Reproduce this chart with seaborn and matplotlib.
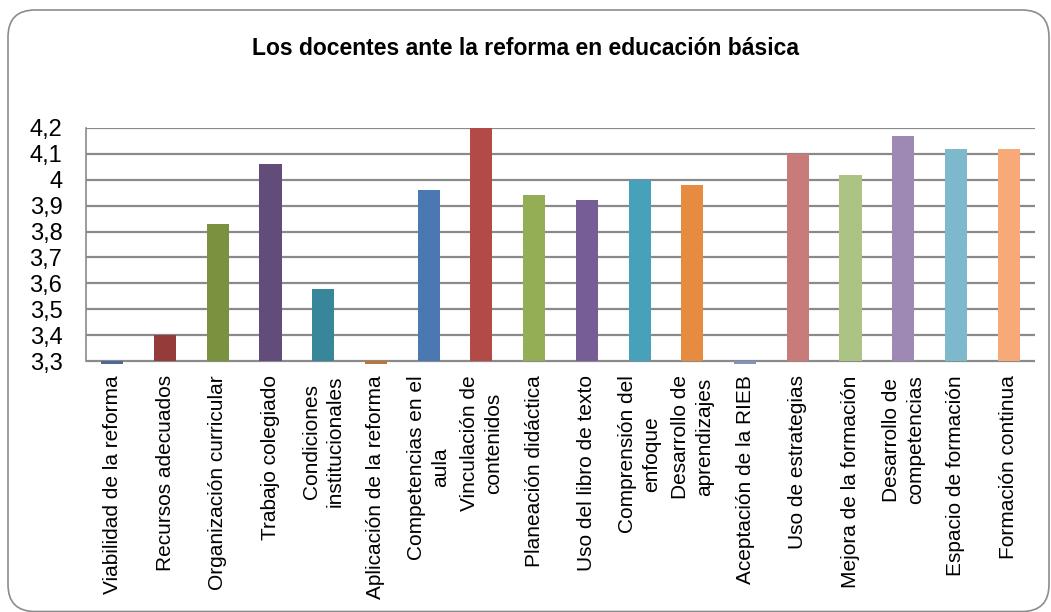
import pandas as pd
import seaborn as sns
import matplotlib.pyplot as plt
from matplotlib.patches import FancyBboxPatch
from matplotlib.ticker import FuncFormatter

categories = [
    "Viabilidad de la reforma", "Recursos adecuados", "Organización curricular",
    "Trabajo colegiado", "Condiciones\ninstitucionales", "Aplicación de la reforma",
    "Competencias en el\naula", "Vinculación de\ncontenidos", "Planeación didáctica",
    "Uso del libro de texto", "Comprensión del\nenfoque", "Desarrollo de\naprendizajes",
    "Aceptación de la RIEB", "Uso de estrategias", "Mejora de la formación",
    "Desarrollo de\ncompetencias", "Espacio de formación", "Formación continua",
]
# bars under 3,3 only show as a sliver below the axis
values = [3.2, 3.40, 3.83, 4.06, 3.58, 3.2, 3.96, 4.20, 3.94,
          3.92, 4.00, 3.98, 3.2, 4.10, 4.02, 4.17, 4.12, 4.12]
colors = ["#4A6A9A", "#953B39", "#7A9140", "#624C7A", "#38869A", "#B8763F",
          "#4A78B0", "#B24A47", "#93AE55", "#775D96", "#48A1BA", "#E78B40",
          "#7F93BD", "#C97B7A", "#ABC483", "#9D89B3", "#7DB8CD", "#F7A977"]
base = 3.3

df = pd.DataFrame({"cat": categories, "val": values})
df["height"] = df["val"] - base

plt.rcParams["font.family"] = ["Liberation Sans", "DejaVu Sans"]

fig = plt.figure(figsize=(10.51, 6.12), dpi=100)
ax = fig.add_axes([0.0818, 0.405, 0.903, 0.386])

sns.barplot(data=df, x="cat", y="height", hue="cat", palette=colors,
            saturation=1, legend=False, width=0.42, bottom=base, ax=ax, zorder=3)

ax.set_ylim(3.288, 4.2)
ax.set_xlim(-0.5, len(categories) - 0.5)
ax.set_yticks([3.3 + 0.1 * i for i in range(10)])
ax.yaxis.set_major_formatter(FuncFormatter(lambda v, p: f"{round(v, 1):g}".replace(".", ",")))
ax.yaxis.grid(True, color="#8A8A8A", linewidth=1.6, zorder=1)
ax.set_axisbelow(True)
for s in ["top", "right", "bottom"]:
    ax.spines[s].set_visible(False)
ax.spines["left"].set_color("#8A8A8A")
ax.spines["left"].set_linewidth(1.2)
ax.spines["left"].set_bounds(3.3, 4.2)

ax.tick_params(axis="y", length=0, pad=17, labelsize=17)
ax.tick_params(axis="x", length=0, pad=8, labelsize=15)
for lab in ax.get_xticklabels():
    lab.set_rotation(90)
    lab.set_ha("center")
    lab.set_va("top")
    lab.set_multialignment("center")
    lab.set_linespacing(1.35)
ax.set_xlabel("")
ax.set_ylabel("")

fig.text(0.5, 0.921, "Los docentes ante la reforma en educación básica",
         ha="center", va="center", fontsize=16.5, fontweight="bold")

frame = FancyBboxPatch((0.08, 0.005), 10.41, 6.015,
                       boxstyle="round,pad=0,rounding_size=0.27",
                       transform=fig.dpi_scale_trans, fc="none",
                       ec="#8C8C8C", lw=1.2)
fig.patches.append(frame)

fig.savefig("out.png", dpi=100)
